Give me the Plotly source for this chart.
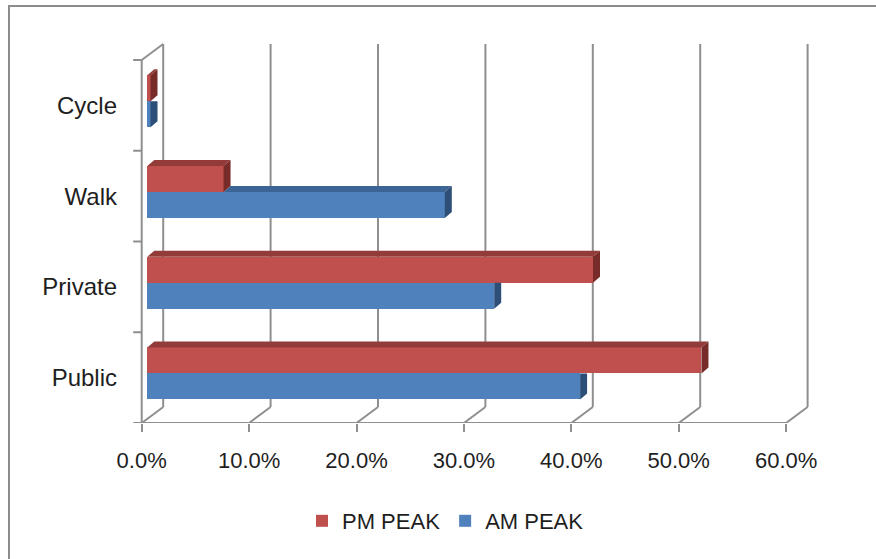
import plotly.graph_objects as go

# ---- data -------------------------------------------------------------
categories = ["Public", "Private", "Walk", "Cycle"]
am_peak = [40.3, 32.3, 27.7, 0.3]   # % of trips, AM peak
pm_peak = [51.6, 41.5, 7.1, 0.3]    # % of trips, PM peak
x_ticks = [0, 10, 20, 30, 40, 50, 60]
x_tick_labels = ["0.0%", "10.0%", "20.0%", "30.0%", "40.0%", "50.0%", "60.0%"]

# ---- geometry (pixels) ------------------------------------------------
W, H = 876, 559
L, R, T, B = 128, 815, 38, 423          # plot area edges
X0_PX = 141.7                            # pixel of 0 % on the front plane
PX_PER_PCT = 10.74
PX_PER_CAT = 90.75

x_min = -(X0_PX - L) / PX_PER_PCT
x_max = (R - X0_PX) / PX_PER_PCT
y_min = -0.5
y_max = y_min + (B - T) / PX_PER_CAT

# oblique depth of the chart box, in data units
wall_dx = 21.5 / PX_PER_PCT
wall_dy = 16.0 / PX_PER_CAT
# bars sit part-way into the box and have their own extrusion
bar_front = 0.26
bar_dx = 7.0 / PX_PER_PCT
bar_dy = 6.0 / PX_PER_CAT
bar_h = 26.0 / PX_PER_CAT
base_x = bar_front * wall_dx
shift_y = bar_front * wall_dy

x_axis_max = x_ticks[-1]
y_front_top = len(categories) - 0.5

RED = "#C0504D"
RED_TOP = "#923B39"
RED_SIDE = "#782C2A"
BLUE = "#4F81BD"
BLUE_TOP = "#3C6494"
BLUE_SIDE = "#2D4E77"
GRID = "#8F8F8F"
FONT = "Liberation Sans, Arial, sans-serif"
TEXT = "#1E1E1E"


def px_x(p):
    return (p - L) / (R - L)


def px_y(p):
    return (B - p) / (B - T)


y_idx = list(range(len(categories)))
pm_y = [i + shift_y + bar_h / 2 for i in y_idx]
am_y = [i + shift_y - bar_h / 2 for i in y_idx]

fig = go.Figure()

# front faces of the bars
fig.add_trace(go.Bar(
    y=pm_y, x=pm_peak, base=[base_x] * len(pm_peak), orientation="h",
    width=bar_h, marker=dict(color=RED, line=dict(width=0)),
    name="PM PEAK", legendrank=1, hoverinfo="skip"))
fig.add_trace(go.Bar(
    y=am_y, x=am_peak, base=[base_x] * len(am_peak), orientation="h",
    width=bar_h, marker=dict(color=BLUE, line=dict(width=0)),
    name="AM PEAK", legendrank=2, hoverinfo="skip"))


def poly(xs, ys, color):
    fig.add_trace(go.Scatter(
        x=xs + [xs[0]], y=ys + [ys[0]], mode="lines", fill="toself",
        fillcolor=color, line=dict(width=0, color=color),
        hoverinfo="skip", showlegend=False))


# top and side faces (AM first, PM drawn over it)
for i in y_idx:
    x0 = base_x
    xa = base_x + am_peak[i]
    xp = base_x + pm_peak[i]
    ya_b, ya_t = am_y[i] - bar_h / 2, am_y[i] + bar_h / 2
    yp_b, yp_t = pm_y[i] - bar_h / 2, pm_y[i] + bar_h / 2

    # AM top face: only the part beyond the PM bar is visible
    if xa > xp:
        s = max(x0, xp)
        poly([s, s + bar_dx, xa + bar_dx, xa],
             [ya_t, ya_t + bar_dy, ya_t + bar_dy, ya_t], BLUE_TOP)
        poly([xa, xa, xa + bar_dx, xa + bar_dx],
             [ya_b, ya_t, ya_t + bar_dy, ya_b + bar_dy], BLUE_SIDE)
    else:
        poly([xa, xa, xa + bar_dx, xa + bar_dx],
             [ya_b, ya_t, ya_t, ya_b + bar_dy], BLUE_SIDE)

    # PM top and side faces
    poly([x0, x0 + bar_dx, xp + bar_dx, xp],
         [yp_t, yp_t + bar_dy, yp_t + bar_dy, yp_t], RED_TOP)
    poly([xp, xp, xp + bar_dx, xp + bar_dx],
         [yp_b, yp_t, yp_t + bar_dy, yp_b + bar_dy], RED_SIDE)

# ---- walls, floor and gridlines ---------------------------------------
shapes = []


def seg(xa, ya, xb, yb):
    shapes.append(dict(type="line", x0=xa, y0=ya, x1=xb, y1=yb, layer="below",
                       line=dict(color=GRID, width=2)))


for v in x_ticks:
    # floor diagonal and back-wall gridline
    seg(v, y_min, v + wall_dx, y_min + wall_dy)
    seg(v + wall_dx, y_min + wall_dy, v + wall_dx, y_front_top + wall_dy)
# floor front edge
seg(0, y_min, x_axis_max, y_min)
# left wall front edge and top edge
seg(0, y_min, 0, y_front_top)
seg(0, y_front_top, wall_dx, y_front_top + wall_dy)
# category tick marks
tick_len = 8.5 / PX_PER_PCT
for k in range(len(categories) + 1):
    seg(-tick_len, y_min + k, 0, y_min + k)

# chart frame
shapes.append(dict(type="rect", xref="paper", yref="paper",
                   x0=px_x(9), y0=px_y(H + 20), x1=px_x(W + 20), y1=px_y(6),
                   line=dict(color="#8C8C8C", width=2), layer="below"))

fig.update_layout(
    width=W, height=H,
    margin=dict(l=L, r=W - R, t=T, b=H - B, pad=0, autoexpand=False),
    paper_bgcolor="white", plot_bgcolor="rgba(0,0,0,0)",
    barmode="overlay", bargap=0,
    shapes=shapes,
    font=dict(family=FONT, size=22, color=TEXT),
    showlegend=True,
    legend=dict(orientation="h", x=px_x(302), xanchor="left",
                y=px_y(521), yanchor="middle",
                font=dict(family=FONT, size=22, color=TEXT),
                bgcolor="rgba(0,0,0,0)", traceorder="normal"),
    xaxis=dict(range=[x_min, x_max], tickvals=x_ticks, ticktext=x_tick_labels,
               ticks="outside", ticklen=8, tickwidth=2, tickcolor=GRID,
               showgrid=False, zeroline=False, showline=False,
               ticklabelstandoff=10, fixedrange=True),
    yaxis=dict(range=[y_min, y_max], tickvals=y_idx, ticktext=categories,
               ticks="", showgrid=False, zeroline=False, showline=False,
               tickfont=dict(family=FONT, size=24, color=TEXT),
               ticklabelstandoff=10, fixedrange=True),
)

fig.write_html("out.html")
